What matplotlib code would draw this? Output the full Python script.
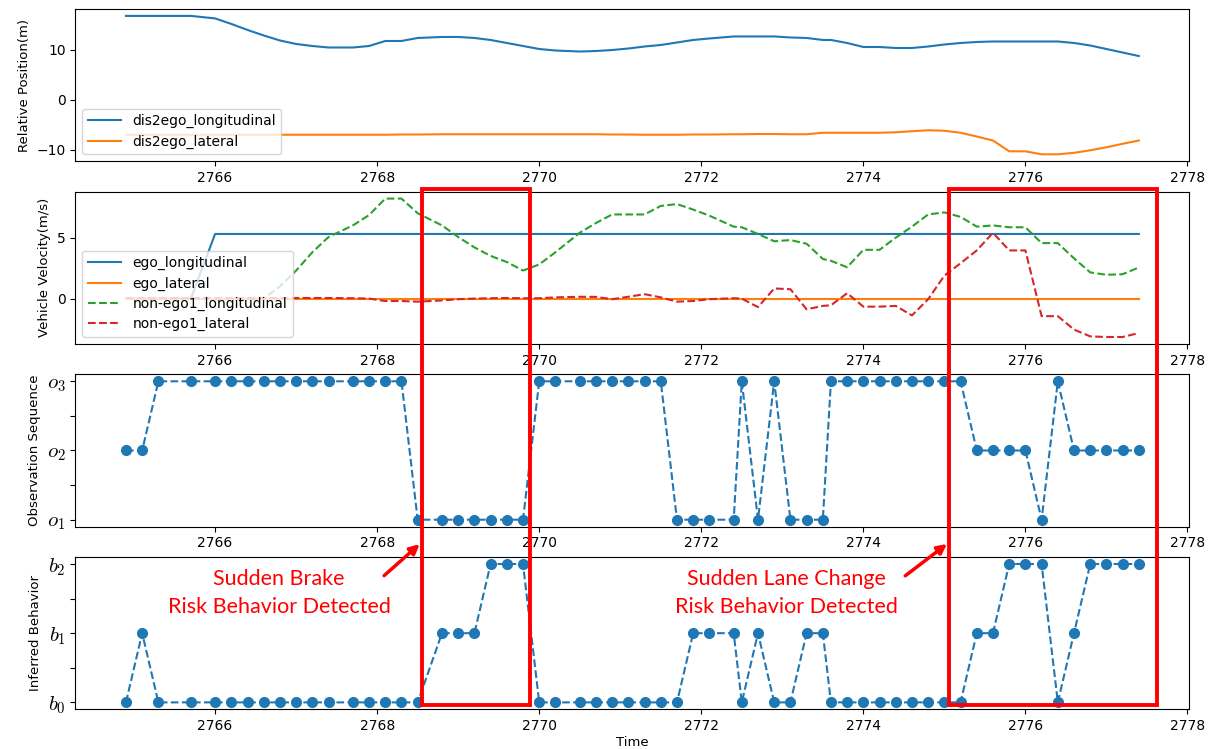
import matplotlib
matplotlib.use("Agg")
import matplotlib.pyplot as plt
import matplotlib.transforms as mtransforms
from matplotlib.patches import Rectangle, FancyArrowPatch
from matplotlib.ticker import MultipleLocator

plt.rcParams["mathtext.fontset"] = "cm"

# time stamps (s)
time = [2764.9, 2765.1, 2765.3, 2765.7, 2766.0, 2766.2, 2766.4, 2766.6, 2766.8, 2767.0,
        2767.2, 2767.4, 2767.7, 2767.9, 2768.1, 2768.3, 2768.5, 2768.8, 2769.0, 2769.2,
        2769.4, 2769.6, 2769.8, 2770.0, 2770.2, 2770.5, 2770.7, 2770.9, 2771.1, 2771.3,
        2771.5, 2771.7, 2771.9, 2772.1, 2772.4, 2772.5, 2772.7, 2772.9, 2773.1, 2773.3,
        2773.5, 2773.6, 2773.8, 2774.0, 2774.2, 2774.4, 2774.6, 2774.8, 2775.0, 2775.2,
        2775.4, 2775.6, 2775.8, 2776.0, 2776.2, 2776.4, 2776.6, 2776.8, 2777.0, 2777.2,
        2777.4]

dis2ego_longitudinal = [16.7, 16.7, 16.7, 16.7, 16.2, 15.1, 13.9, 12.8, 11.8, 11.1,
                        10.7, 10.4, 10.4, 10.7, 11.7, 11.7, 12.3, 12.5, 12.5, 12.3,
                        11.9, 11.3, 10.7, 10.1, 9.8, 9.6, 9.7, 9.9, 10.2, 10.6,
                        10.9, 11.4, 11.9, 12.2, 12.6, 12.6, 12.6, 12.6, 12.4, 12.3,
                        11.9, 11.9, 11.3, 10.5, 10.5, 10.3, 10.3, 10.6, 11.0, 11.3,
                        11.5, 11.6, 11.6, 11.6, 11.6, 11.6, 11.3, 10.8, 10.1, 9.4,
                        8.7]
dis2ego_lateral = [-7.0, -7.0, -7.0, -7.0, -7.0, -7.0, -7.0, -7.0, -7.0, -7.0,
                   -7.0, -7.0, -7.0, -7.0, -7.0, -6.95, -6.95, -6.9, -6.9, -6.9,
                   -6.9, -6.9, -6.9, -6.9, -6.9, -6.9, -6.9, -6.95, -6.95, -7.0,
                   -7.0, -7.0, -6.95, -6.95, -6.9, -6.9, -6.85, -6.85, -6.9, -6.9,
                   -6.6, -6.6, -6.6, -6.6, -6.6, -6.5, -6.3, -6.1, -6.2, -6.6,
                   -7.35, -8.15, -10.3, -10.3, -10.9, -10.9, -10.6, -10.1, -9.5, -8.8,
                   -8.15]

ego_longitudinal = [0.0, 0.0, 0.0, 0.0] + [5.3] * 57
ego_lateral = [0.0] * 61
nonego_longitudinal = [0.0, 0.0, 0.0, 0.0, 0.0, 0.0, 0.0, 0.0, 1.0, 2.3,
                       3.8, 5.05, 6.0, 6.85, 8.2, 8.2, 7.0, 6.0, 5.05, 4.2,
                       3.5, 3.0, 2.3, 2.8, 3.8, 5.4, 6.2, 6.9, 6.9, 6.9,
                       7.6, 7.75, 7.3, 6.8, 5.9, 5.85, 5.3, 4.7, 4.8, 4.5,
                       3.25, 3.1, 2.57, 4.0, 4.0, 5.0, 5.9, 6.9, 7.07, 6.7,
                       5.9, 6.0, 5.85, 5.85, 4.55, 4.55, 3.3, 2.15, 1.95, 2.0,
                       2.55]
nonego_lateral = [0.05, 0.05, 0.05, 0.05, 0.05, 0.05, 0.05, 0.05, 0.05, 0.05,
                  0.05, 0.05, 0.03, 0.0, -0.2, -0.2, -0.25, -0.15, -0.05, 0.0,
                  0.03, 0.05, 0.03, 0.03, 0.1, 0.15, 0.14, -0.05, 0.15, 0.36,
                  0.1, -0.25, -0.2, -0.05, 0.03, 0.0, -0.7, 0.83, 0.77, -0.88,
                  -0.6, -0.55, 0.44, -0.66, -0.66, -0.6, -1.38, -0.05, 1.88, 2.9,
                  3.95, 5.4, 3.95, 3.95, -1.44, -1.44, -2.54, -3.1, -3.15, -3.15,
                  -2.82]

observation = [2, 2] + [3] * 14 + [1] * 7 + [3] * 8 + [1] * 4 + [3, 1, 3] + [1] * 3 \
    + [3] * 9 + [2] * 4 + [1, 3] + [2] * 5
behavior = [0, 1, 0] + [0] * 14 + [1] * 3 + [2] * 3 + [0] * 9 + [1] * 3 + [0, 1, 0, 0, 1, 1] \
    + [0] * 9 + [1, 1, 2, 2, 2, 0, 1, 2, 2, 2, 2]

obs_ticks = [1, 1.5, 2, 2.5, 3]
obs_labels = ["$o_1$", "", "$o_2$", "", "$o_3$"]
beh_ticks = [0, 0.5, 1, 1.5, 2]
beh_labels = ["$b_0$", "", "$b_1$", "", "$b_2$"]

# risk windows (start, end) and their notes
risk_windows = [(2768.55, 2769.88), (2775.06, 2777.62)]
notes = ["Sudden Brake\nRisk Behavior Detected",
         "Sudden Lane Change\nRisk Behavior Detected"]
note_x = [2766.79, 2773.05]
arrow_tail_x = [2768.06, 2774.49]

fig, axes = plt.subplots(4, 1, figsize=(12.15, 7.49), dpi=100)
fig.subplots_adjust(left=0.062, right=0.979, top=0.988, bottom=0.053, hspace=0.2)
ax1, ax2, ax3, ax4 = axes

for ax in axes:
    ax.tick_params(axis="both", labelsize=10)

ax1.plot(time, dis2ego_longitudinal, label="dis2ego_longitudinal")
ax1.plot(time, dis2ego_lateral, label="dis2ego_lateral")
ax1.set_ylabel("Relative Position(m)", fontsize=9.5)
ax1.legend(loc="lower left", fontsize=10, handlelength=2.4, labelspacing=0.45)

ax2.plot(time, ego_longitudinal, label="ego_longitudinal")
ax2.plot(time, ego_lateral, label="ego_lateral")
ax2.plot(time, nonego_longitudinal, "--", label="non-ego1_longitudinal")
ax2.plot(time, nonego_lateral, "--", label="non-ego1_lateral")
ax2.yaxis.set_major_locator(MultipleLocator(5))
ax2.set_ylabel("Vehicle Velocity(m/s)", fontsize=9.5)
ax2.legend(loc="lower left", fontsize=10, handlelength=2.4, labelspacing=0.45)

ax3.plot(time, observation, "o--", markersize=7)
ax3.set_yticks(obs_ticks)
ax3.set_yticklabels(obs_labels, fontsize=15)
ax3.set_ylabel("Observation Sequence", fontsize=9.5)

ax4.plot(time, behavior, "o--", markersize=7)
ax4.set_yticks(beh_ticks)
ax4.set_yticklabels(beh_labels, fontsize=15)
ax4.set_ylabel("Inferred Behavior", fontsize=9.5)
ax4.set_xlabel("Time", fontsize=9.5, labelpad=2)

# red boxes across panels 2-4
trans = mtransforms.blended_transform_factory(ax4.transData, fig.transFigure)
y_top = ax2.get_position().y1 + 0.003
y_bot = ax4.get_position().y0 + 0.006
for (x0, x1) in risk_windows:
    rect = Rectangle((x0, y_bot), x1 - x0, y_top - y_bot, transform=trans,
                     fill=False, edgecolor="red", linewidth=2.8, zorder=10)
    fig.add_artist(rect)

for note, nx, (x0, x1), tx in zip(notes, note_x, risk_windows, arrow_tail_x):
    fig.text(nx, 0.208, note, transform=trans, ha="center", va="center",
             color="red", fontsize=15.5, family="Lato", linespacing=1.5)
    arr = FancyArrowPatch((tx, 0.229), (x0, 0.276), transform=trans,
                          arrowstyle="-|>", mutation_scale=14, color="red",
                          linewidth=2.5)
    fig.add_artist(arr)

fig.savefig("out.png", dpi=100)
